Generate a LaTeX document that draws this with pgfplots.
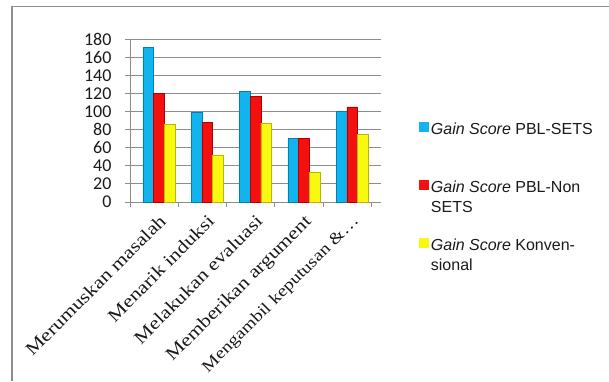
\documentclass[border=0pt]{standalone}
\usepackage{fontspec}
\usepackage{pgfplots}
\pgfplotsset{compat=1.18}
\setmainfont{Liberation Sans}
\newfontfamily\tickfont{Carlito}
\newfontfamily\catfont[FakeStretch=1.2]{Liberation Serif}
\definecolor{cblue}{HTML}{12B4EE}
\definecolor{cblueD}{HTML}{0080B8}
\definecolor{cred}{HTML}{F51010}
\definecolor{credD}{HTML}{B00000}
\definecolor{cyel}{HTML}{F8F810}
\definecolor{cyelD}{HTML}{B8B800}
\definecolor{axgray}{HTML}{8C8C8C}
\definecolor{framegray}{HTML}{8E8E8E}
\definecolor{txt}{HTML}{1A1A1A}
\newcommand{\lastcat}{\fontsize{16.3}{16.3}\selectfont Mengambil keputusan \&\ldots}
\begin{document}
\begin{tikzpicture}
\useasboundingbox (0,0) rectangle (609pt,381pt);
\draw[framegray, line width=1.6pt] (11.7pt,0pt) -- (11.7pt,374.3pt) -- (609pt,374.3pt);
\begin{axis}[
  at={(130pt,179pt)}, anchor=south west,
  scale only axis, width=251pt, height=163pt,
  xmin=-0.6, xmax=4.597, ymin=0, ymax=180,
  ytick={0,20,...,180},
  xtick={0,1,2,3,4},
  xticklabels={Merumuskan masalah, Menarik induksi, Melakukan evaluasi, Memberikan argument, \lastcat},
  minor xtick={-0.6,0.4,1.4,2.4,3.4,4.4},
  major x tick style={draw=none},
  axis x line*=bottom, axis y line*=left,
  axis line style={draw=axgray, line width=1pt, -},
  tick style={axgray, line width=0.8pt},
  tick align=outside,
  major tick length=5pt, minor tick length=5pt,
  ymajorgrids, grid style={axgray, line width=0.8pt},
  /pgf/number format/assume math mode=true,
  yticklabel style={font=\tickfont\fontsize{18}{18}\selectfont, text=txt, xshift=-10pt},
  xticklabel style={font=\catfont\fontsize{18}{18}\selectfont, text=txt, rotate=45, anchor=north east, inner sep=1pt, yshift=-3pt, xshift=-4pt},
  ybar, bar width=10.7pt,
  legend style={at={(1.151,0.515)}, anchor=north west, draw=none, fill=none,
    inner sep=0pt, outer sep=0pt, row sep=17.5pt,
    font=\fontsize{16}{20}\selectfont, text=txt,
    nodes={inner sep=2.5pt},
    cells={anchor=west, align=left}},
]
\addplot[draw=cblueD, line width=0.5pt, fill=cblue, bar shift=-10.7pt,
  legend image code/.code={\fill[cblue] (0pt,7.2pt) rectangle (9pt,16.2pt);}]
  coordinates {(0,171) (1,99) (2,122) (3,70) (4,100)};
\addlegendentry{\strut\textit{Gain Score} PBL-SETS\\\strut}
\addplot[draw=credD, line width=0.5pt, fill=cred, bar shift=0pt,
  legend image code/.code={\fill[cred] (0pt,7.2pt) rectangle (9pt,16.2pt);}]
  coordinates {(0,120) (1,88) (2,117) (3,70) (4,105)};
\addlegendentry{\strut\textit{Gain Score} PBL-Non\\\strut SETS}
\addplot[draw=cyelD, line width=0.5pt, fill=cyel, bar shift=10.7pt,
  legend image code/.code={\fill[cyel] (0pt,7.2pt) rectangle (9pt,16.2pt);}]
  coordinates {(0,86) (1,52) (2,87) (3,33) (4,75)};
\addlegendentry{\strut\textit{Gain Score} Konven-\\\strut sional}
\end{axis}
\end{tikzpicture}
\end{document}
